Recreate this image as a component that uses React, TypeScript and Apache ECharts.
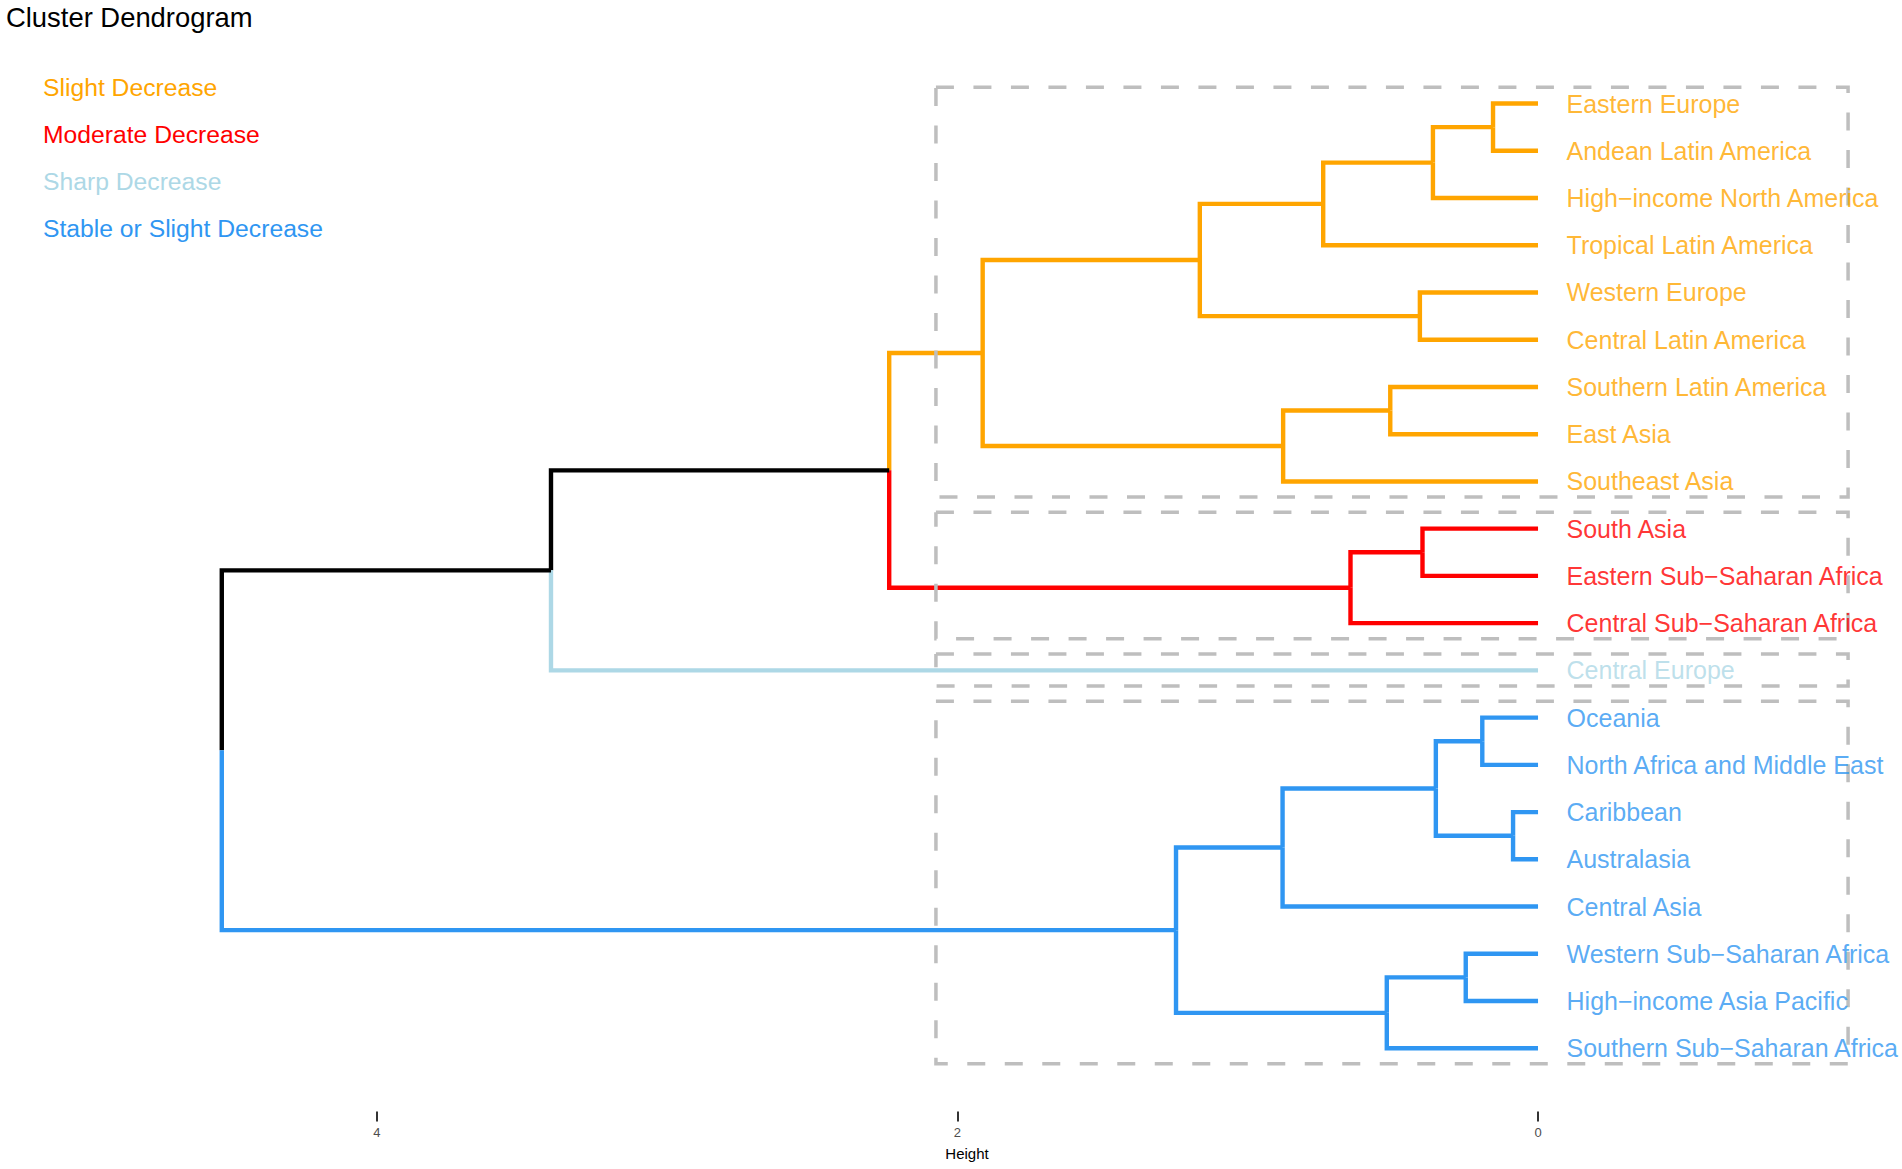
import React, { useEffect, useRef } from "react";
import * as echarts from "echarts";

// ---- data ----
const leafLabels = [
  "Eastern Europe",
  "Andean Latin America",
  "High\u2212income North America",
  "Tropical Latin America",
  "Western Europe",
  "Central Latin America",
  "Southern Latin America",
  "East Asia",
  "Southeast Asia",
  "South Asia",
  "Eastern Sub\u2212Saharan Africa",
  "Central Sub\u2212Saharan Africa",
  "Central Europe",
  "Oceania",
  "North Africa and Middle East",
  "Caribbean",
  "Australasia",
  "Central Asia",
  "Western Sub\u2212Saharan Africa",
  "High\u2212income Asia Pacific",
  "Southern Sub\u2212Saharan Africa",
];
const leafGroup = [0, 0, 0, 0, 0, 0, 0, 0, 0, 1, 1, 1, 2, 3, 3, 3, 3, 3, 3, 3, 3];

// hclust-style merge list: negative = leaf (1-based), positive = earlier merge (1-based)
const mergeLeft = [-1, 1, 2, -5, 3, -7, 6, 5, -10, 9, 8, 11, -14, -16, 13, 15, -19, 17, 16, 12];
const mergeRight = [-2, -3, -4, -6, 4, -8, -9, 7, -11, -12, 10, -13, -15, -17, 14, -18, -20, -21, 18, 19];
const mergeHeight = [
  0.155, 0.362, 0.74, 0.407, 1.165, 0.509, 0.878, 1.913, 0.398, 0.646, 2.235, 3.4,
  0.192, 0.086, 0.352, 0.88, 0.249, 0.521, 1.247, 4.534,
];

const groupNames = ["Slight Decrease", "Moderate Decrease", "Sharp Decrease", "Stable or Slight Decrease"];
const groupColors = ["#FFA500", "#FF0000", "#ADD8E6", "#2F96F2"];
const heightTicks = [0, 2, 4];

// ---- layout / style constants ----
const FONT = '"Liberation Sans", Arial, Helvetica, sans-serif';
const BOX_RIGHT = -1.068;
const BOX_PAD_TOP = 0.345;
const BOX_PAD_BOTTOM = 0.33;

type Node = { pos: number; h: number; group: number };

function buildTree() {
  const merges: Node[] = [];
  const edges: { coords: number[][]; color: string }[] = [];
  const nodeOf = (ref: number): Node => {
    if (ref < 0) return { pos: -ref, h: 0, group: leafGroup[-ref - 1] };
    return merges[ref - 1];
  };
  for (let m = 0; m < mergeHeight.length; m++) {
    const a = nodeOf(mergeLeft[m]);
    const b = nodeOf(mergeRight[m]);
    const node: Node = {
      pos: (a.pos + b.pos) / 2,
      h: mergeHeight[m],
      group: a.group === b.group ? a.group : -1,
    };
    merges.push(node);
    for (const c of [a, b]) {
      edges.push({
        coords: [
          [c.h, c.pos],
          [node.h, c.pos],
          [node.h, node.pos],
        ],
        color: c.group >= 0 ? groupColors[c.group] : "#000000",
      });
    }
  }
  return edges;
}

function buildBoxes() {
  const sorted = [...mergeHeight].sort((x, y) => y - x);
  const k = groupNames.length;
  const cut = (sorted[k - 2] + sorted[k - 1]) / 2;
  return groupNames.map((_, g) => {
    const idx = leafGroup.map((v, i) => (v === g ? i + 1 : -1)).filter((v) => v > 0);
    const top = Math.min(...idx) - BOX_PAD_TOP;
    const bot = Math.max(...idx) + BOX_PAD_BOTTOM;
    return {
      coords: [
        [cut, top],
        [BOX_RIGHT, top],
        [BOX_RIGHT, bot],
        [cut, bot],
        [cut, top],
      ],
    };
  });
}

export default function App() {
  const ref = useRef<HTMLDivElement>(null);

  useEffect(() => {
    if (!ref.current) return;
    const chart = echarts.init(ref.current, null, { renderer: "svg" });
    const edges = buildTree();
    const boxes = buildBoxes();

    const option: any = {
      animation: false,
      backgroundColor: "#ffffff",
      title: {
        text: "Cluster Dendrogram",
        left: 6,
        top: 4,
        padding: 0,
        textStyle: { fontSize: 27.4, fontWeight: "normal", color: "#000000", fontFamily: FONT },
      },
      graphic: groupNames.map((name, i) => ({
        type: "text",
        x: 43,
        y: 87 + i * 47.2,
        style: {
          text: name,
          fill: groupColors[i],
          fontSize: 24.7,
          fontFamily: FONT,
          verticalAlign: "middle",
          align: "left",
        },
      })),
      grid: { left: 47.6, right: 15.6, top: 56.3, bottom: 73.5, containLabel: false },
      xAxis: {
        type: "value",
        inverse: true,
        min: -1.2,
        max: 5.134,
        offset: 16,
        position: "bottom",
        axisLine: { show: false, onZero: false },
        splitLine: { show: false },
        axisTick: {
          show: true,
          customValues: heightTicks,
          length: 10,
          lineStyle: { color: "#333333", width: 2 },
        },
        axisLabel: {
          customValues: heightTicks,
          fontSize: 13,
          color: "#4D4D4D",
          margin: 14,
          fontFamily: FONT,
        },
        name: "Height",
        nameLocation: "middle",
        nameGap: 34,
        nameTextStyle: { fontSize: 15, color: "#000000", fontFamily: FONT },
      },
      yAxis: {
        type: "value",
        inverse: true,
        min: 0,
        max: 22,
        show: false,
      },
      series: [
        {
          type: "lines",
          coordinateSystem: "cartesian2d",
          polyline: true,
          silent: true,
          z: 3,
          lineStyle: { width: 4.4, opacity: 1, cap: "butt", join: "miter" },
          data: edges.map((e) => ({ coords: e.coords, lineStyle: { color: e.color, width: 4.4, opacity: 1 } })),
        },
        {
          type: "lines",
          coordinateSystem: "cartesian2d",
          polyline: true,
          silent: true,
          z: 4,
          lineStyle: { width: 3.5, opacity: 1, color: "#BEBEBE", type: [18, 19.5], cap: "butt", join: "miter" },
          data: boxes,
        },
        {
          type: "scatter",
          silent: true,
          clip: false,
          symbol: "circle",
          symbolSize: 1,
          itemStyle: { color: "rgba(255,255,255,0)" },
          z: 5,
          data: leafLabels.map((name, i) => ({
            name,
            value: [0, i + 1],
            label: { color: groupColors[leafGroup[i]] },
          })),
          label: {
            show: true,
            position: "right",
            distance: 28,
            offset: [0, 1],
            formatter: "{b}",
            fontSize: 25,
            fontFamily: FONT,
          },
          labelLayout: { hideOverlap: false },
        },
      ],
    };
    chart.setOption(option);
    return () => chart.dispose();
  }, []);

  return (
    <div
      ref={ref}
      style={{ position: "absolute", left: 0, top: 0, width: 1902, height: 1169, background: "#fff" }}
    />
  );
}
